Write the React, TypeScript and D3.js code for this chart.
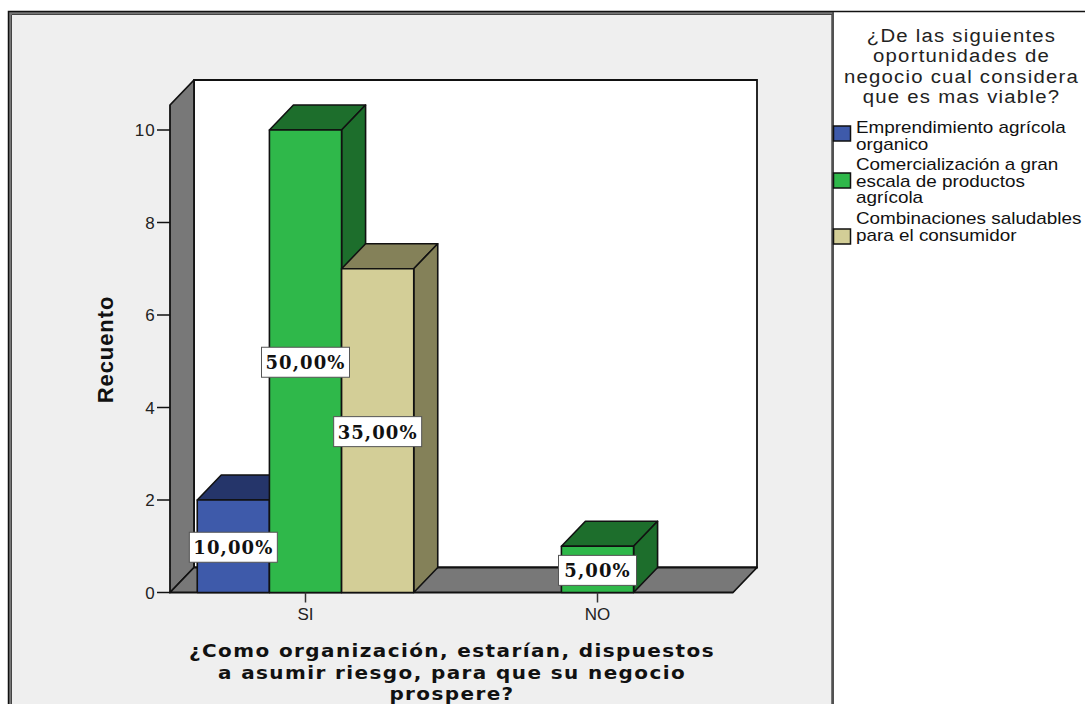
import React from "react";
import * as d3 from "d3";

const categories = ["SI", "NO"];
const seriesNames = ["Emprendimiento agrícola organico", "Comercialización a gran escala de productos agrícola", "Combinaciones saludables para el consumidor"];
const seriesColors = ["#3e5aaa", "#2fb84a", "#d3ce97"];
const sideColors = ["#25356a", "#1d6e2c", "#848159"];
const seriesSI = [2, 10, 7];
const seriesNO = [0, 1, 0];
const labelsSI = ["10,00%", "50,00%", "35,00%"];
const labelsNO = ["", "5,00%", ""];
const yTicks = [0, 2, 4, 6, 8, 10];
const legendTitle = ["¿De las siguientes", "oportunidades de", "negocio cual considera", "que es mas viable?"];
const legendLines = [["Emprendimiento agrícola", "organico"], ["Comercialización a gran", "escala de productos", "agrícola"], ["Combinaciones saludables", "para el consumidor"]];
const xTitle = ["¿Como organización, estarían, dispuestos", "a asumir riesgo, para que su negocio", "prospere?"];
const xTitleY = [657, 678.5, 699.5];
const yTitle = "Recuento";

const W = 1085, H = 704;
const DX = 24, DY = -25;
const plotL = 170, plotR = 733, plotTop = 105;
const y = d3.scaleLinear().domain([0, 10]).range([592.5, 130]);
const x0 = d3.scaleBand<string>().domain(categories).range([159.5, 743.5]);
const BAR_GROUP = 216.5;
const x1 = d3.scaleBand<number>().domain([0, 1, 2]).range([0, BAR_GROUP]);
const LINE = "#111";
const SANS = "'Liberation Sans', Arial, sans-serif";

function poly(pts: [number, number][]) {
  return d3.line()(pts) + "Z";
}

function Bar({ cat, idx, value }: { cat: string; idx: number; value: number }) {
  if (!value) return null;
  const c = x0(cat)! + x0.bandwidth() / 2 - BAR_GROUP / 2;
  const l = c + x1(idx)!;
  const r = l + x1.bandwidth();
  const t = y(value);
  const b = y(0);
  return (
    <g stroke={LINE} strokeWidth={1.6} strokeLinejoin="round">
      <path d={poly([[l, t], [l + DX, t + DY], [r + DX, t + DY], [r, t]])} fill={sideColors[idx]} />
      <path d={poly([[r, t], [r + DX, t + DY], [r + DX, b + DY], [r, b]])} fill={sideColors[idx]} />
      <path d={poly([[l, t], [r, t], [r, b], [l, b]])} fill={seriesColors[idx]} />
    </g>
  );
}

function Label({ cat, idx, value, text }: { cat: string; idx: number; value: number; text: string }) {
  if (!text) return null;
  const c = x0(cat)! + x0.bandwidth() / 2 - BAR_GROUP / 2 + x1(idx)! + x1.bandwidth() / 2;
  const cy = y(value / 2) + 1;
  const w = text.length === 6 ? 88 : 78;
  return (
    <g>
      <rect x={c - w / 2} y={cy - 15} width={w} height={30} fill="#fff" stroke="#555" strokeWidth={1} />
      <text x={c} y={cy + 7} textAnchor="middle" fontFamily="'DejaVu Serif', serif" fontWeight="bold" fontSize={18} letterSpacing={1.1} fill="#111">{text}</text>
    </g>
  );
}

export default function App() {
  const yb = y(0);
  const legendY = [133, 180, 236];
  const legendText = [127, 164, 218];
  return (
    <svg width={W} height={H} style={{ position: "absolute", left: 0, top: 0, display: "block", background: "#fff" }}>
      <rect x={9.5} y={12.5} width={823} height={H} fill="#efefef" stroke="#777" strokeWidth={3} />
      <path d={`M8.5 ${H}V11.5H${W}`} fill="none" stroke="#111" strokeWidth={1.5} />
      <path d={`M11.5 ${H}V14.5H832`} fill="none" stroke="#444" strokeWidth={1} />
      <path d={`M833 12V${H}`} stroke="#444" strokeWidth={1.5} />

      {/* 3D walls */}
      <path d={poly([[plotL + DX, plotTop + DY], [plotR + DX, plotTop + DY], [plotR + DX, yb + DY], [plotL + DX, yb + DY]])} fill="#fff" stroke={LINE} strokeWidth={1.8} />
      <path d={poly([[plotL, plotTop], [plotL + DX, plotTop + DY], [plotL + DX, yb + DY], [plotL, yb]])} fill="#787878" stroke={LINE} strokeWidth={1.8} strokeLinejoin="round" />
      <path d={poly([[plotL, yb], [plotL + DX, yb + DY], [plotR + DX, yb + DY], [plotR, yb]])} fill="#787878" stroke={LINE} strokeWidth={1.8} strokeLinejoin="round" />

      {/* Y axis */}
      {yTicks.map((t) => (
        <g key={t}>
          <line x1={plotL - 13} x2={plotL} y1={y(t)} y2={y(t)} stroke={LINE} strokeWidth={1.5} />
          <text x={plotL - 14} y={y(t) + 6} textAnchor="end" fontFamily={SANS} fontSize={17} letterSpacing={1.2} fill="#222">{t}</text>
        </g>
      ))}
      <text transform="translate(113,349.5) rotate(-90)" textAnchor="middle" fontFamily={SANS} fontWeight="bold" fontSize={22} letterSpacing={0.9} fill="#111">{yTitle}</text>

      {/* Bars */}
      {seriesSI.map((v, i) => <Bar key={i} cat="SI" idx={i} value={v} />)}
      {seriesNO.map((v, i) => <Bar key={i} cat="NO" idx={i} value={v} />)}

      {/* X axis */}
      {categories.map((c) => {
        const cx = x0(c)! + x0.bandwidth() / 2;
        return (
          <g key={c}>
            <line x1={cx} x2={cx} y1={yb} y2={yb + 10} stroke="#333" strokeWidth={1.5} />
            <text x={cx} y={620} textAnchor="middle" fontFamily={SANS} fontSize={17} fill="#222">{c}</text>
          </g>
        );
      })}
      {xTitle.map((t, i) => (
        <text key={t} transform={`translate(452,${xTitleY[i]}) scale(1.08,1)`} textAnchor="middle" fontFamily="'DejaVu Sans', sans-serif" fontWeight="bold" fontSize={18.5} letterSpacing={1.3} fill="#111">{t}</text>
      ))}

      {/* Data labels */}
      {labelsSI.map((t, i) => <Label key={i} cat="SI" idx={i} value={seriesSI[i]} text={t} />)}
      {labelsNO.map((t, i) => <Label key={i} cat="NO" idx={i} value={seriesNO[i]} text={t} />)}

      {/* Legend */}
      {legendTitle.map((t, i) => (
        <text key={t} transform={`translate(961.5,${42 + i * 20.3}) scale(1.13,1)`} textAnchor="middle" fontFamily={SANS} fontSize={18} letterSpacing={1.1} fill="#222">{t}</text>
      ))}
      {seriesNames.map((name, i) => (
        <g key={name}>
          <rect x={833.5} y={legendY[i] - 7} width={17} height={15} fill={seriesColors[i]} stroke={LINE} strokeWidth={1.5} />
          {legendLines[i].map((l, k) => (
            <text key={l} transform={`translate(856,${legendText[i] + 6 + k * 16.5}) scale(1.18,1)`} fontFamily={SANS} fontSize={16} fill="#111">{l}</text>
          ))}
        </g>
      ))}
    </svg>
  );
}
